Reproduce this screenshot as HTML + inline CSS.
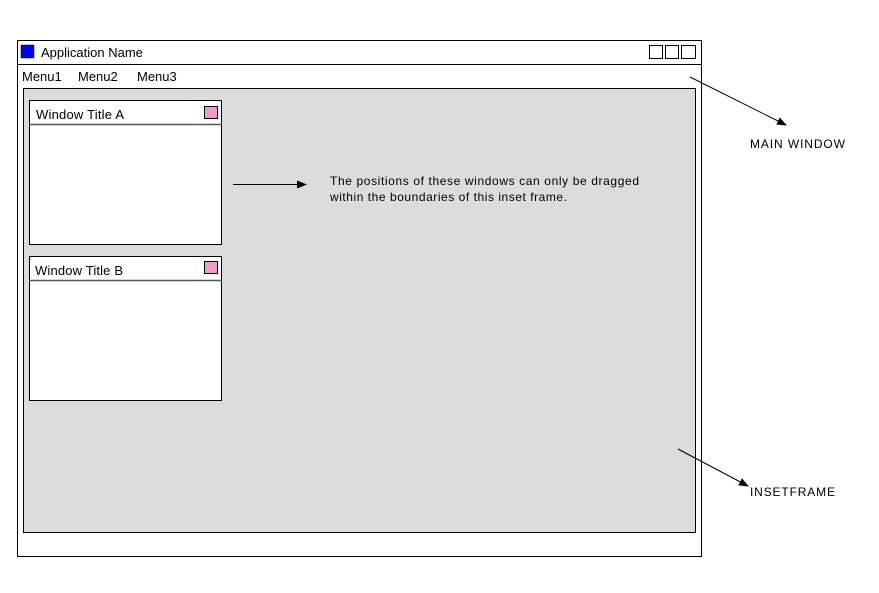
<!DOCTYPE html>
<html><head><meta charset="utf-8"><style>
html,body{margin:0;padding:0;background:#fff;}
svg{display:block;}
text{font-family:"Liberation Sans",sans-serif;fill:#000;}
</style></head><body>
<svg width="879" height="593" viewBox="0 0 879 593" xmlns="http://www.w3.org/2000/svg">
<defs><marker id="a" markerWidth="10" markerHeight="8" refX="9" refY="4" orient="auto" markerUnits="userSpaceOnUse"><path d="M0,0 L10,4 L0,8 z" fill="#000"/></marker></defs>
<rect x="17.5" y="40.5" width="684" height="516" fill="#fff" stroke="#000"/>
<line x1="17" y1="64.5" x2="702" y2="64.5" stroke="#000"/>
<rect x="21" y="45" width="13" height="13" fill="#0000ff" stroke="#000" stroke-width="0.5"/>
<text x="41" y="57" font-size="13">Application Name</text>
<rect x="649.5" y="45.5" width="13" height="13" fill="#fff" stroke="#000"/>
<rect x="665.5" y="45.5" width="13" height="13" fill="#fff" stroke="#000"/>
<rect x="681.5" y="45.5" width="14" height="13" fill="#fff" stroke="#000"/>
<text x="22" y="81" font-size="13">Menu1</text>
<text x="78" y="81" font-size="13">Menu2</text>
<text x="137" y="81" font-size="13">Menu3</text>
<rect x="23.5" y="88.5" width="672" height="444" fill="#dcdcdc" stroke="#000"/>
<rect x="29.5" y="100.5" width="192" height="144" fill="#fff" stroke="#000"/>
<line x1="29" y1="124.5" x2="222" y2="124.5" stroke="#555" stroke-width="1.5"/>
<text x="36" y="119" font-size="13" textLength="88">Window Title A</text>
<rect x="204.5" y="106.5" width="13" height="12" fill="#f49ac8" stroke="#000"/>
<rect x="29.5" y="256.5" width="192" height="144" fill="#fff" stroke="#000"/>
<line x1="29" y1="280.5" x2="222" y2="280.5" stroke="#555" stroke-width="1.5"/>
<text x="35" y="275" font-size="13" textLength="88">Window Title B</text>
<rect x="204.5" y="261.5" width="13" height="12" fill="#f49ac8" stroke="#000"/>
<line x1="233" y1="184.5" x2="306" y2="184.5" stroke="#000" marker-end="url(#a)"/>
<text x="330" y="185" font-size="12" textLength="309">The positions of these windows can only be dragged</text>
<text x="330" y="201" font-size="12" textLength="237">within the boundaries of this inset frame.</text>
<line x1="690" y1="77" x2="786" y2="125" stroke="#000" marker-end="url(#a)"/>
<text x="750" y="148" font-size="12" textLength="95">MAIN WINDOW</text>
<line x1="678" y1="449" x2="748" y2="486" stroke="#000" marker-end="url(#a)"/>
<text x="750" y="496" font-size="12" textLength="85">INSETFRAME</text>
</svg>
</body></html>
